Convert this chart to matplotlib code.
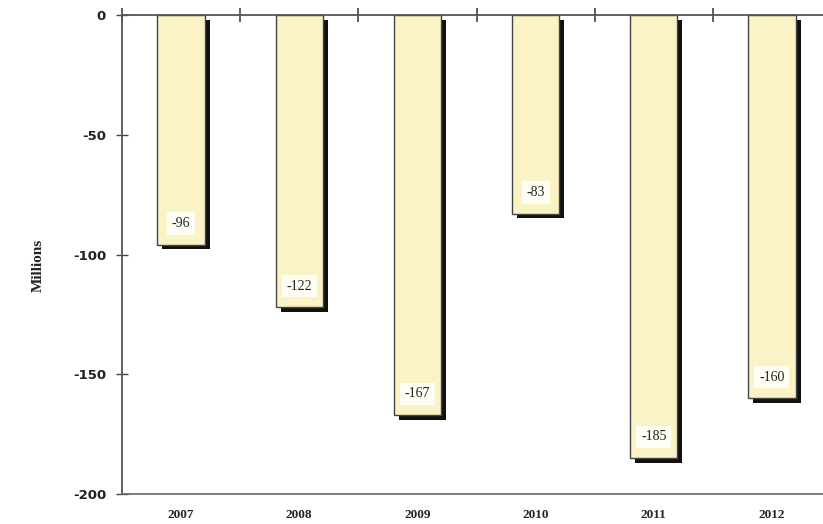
import matplotlib
matplotlib.use("Agg")
import matplotlib.pyplot as plt
import numpy as np

# data
years = ["2007", "2008", "2009", "2010", "2011", "2012"]
values = [-96, -122, -167, -83, -185, -160]
yticks = [0, -50, -100, -150, -200]

fig = plt.figure(figsize=(8.23, 5.24), dpi=100)
W, H = 823.0, 524.0
# axes spans slots beyond the right edge like the original crop
ax = fig.add_axes([122 / W, 30 / H, (831 - 122) / W, (494 - 15) / H])

x = np.arange(len(years))
width = 0.40
dx = 0.042   # shadow offset in slot units
dy = 1.9     # shadow offset in millions

# shadows first
ax.bar(x + dx, values, width, bottom=-dy, color="#111111", zorder=1)
# the bars
ax.bar(x, values, width, color="#FBF3C6", edgecolor="#444444",
       linewidth=1.0, zorder=2)

# value boxes near bottom of each bar
for xi, v in zip(x, values):
    ax.text(xi, v + 8.8, str(v), ha="center", va="center",
            fontsize=10, family="Liberation Serif", color="#222222",
            bbox=dict(boxstyle="square,pad=0.35", fc="#FFFEF4",
                      ec="none"), zorder=3)

ax.set_xlim(-0.5, len(years) - 0.5)
ax.set_ylim(-200, 0)

ax.set_yticks(yticks)
ax.set_yticklabels([str(t) for t in yticks], fontsize=9.5, fontweight="bold",
                   family="Liberation Sans Narrow", color="#222222")
ax.tick_params(axis="y", direction="inout", length=9, width=1.0,
               color="#444444", pad=7)

# year labels at the bottom, boundary ticks on the zero line
ax.set_xticks(x)
ax.set_xticklabels(years, fontsize=9.5, fontweight="bold",
                   family="Liberation Serif", color="#222222")
ax.set_xticks(np.arange(len(years) + 1) - 0.5, minor=True)
ax.tick_params(axis="x", which="major", length=0, pad=11)
ax.tick_params(axis="x", which="minor", top=True, bottom=False,
               direction="inout", length=10, width=1.2, color="#444444")

ax.spines["right"].set_visible(False)
ax.spines["top"].set_color("#555555")
ax.spines["top"].set_linewidth(1.3)
ax.spines["left"].set_color("#555555")
ax.spines["left"].set_linewidth(1.3)
ax.spines["bottom"].set_color("#666666")
ax.spines["bottom"].set_linewidth(1.2)

fig.text(38 / W, 1 - 265 / H, "Millions", rotation=90, ha="center",
         va="center", fontsize=11, fontweight="bold",
         family="Liberation Serif", color="#222222")

fig.savefig("out.png", dpi=100)
